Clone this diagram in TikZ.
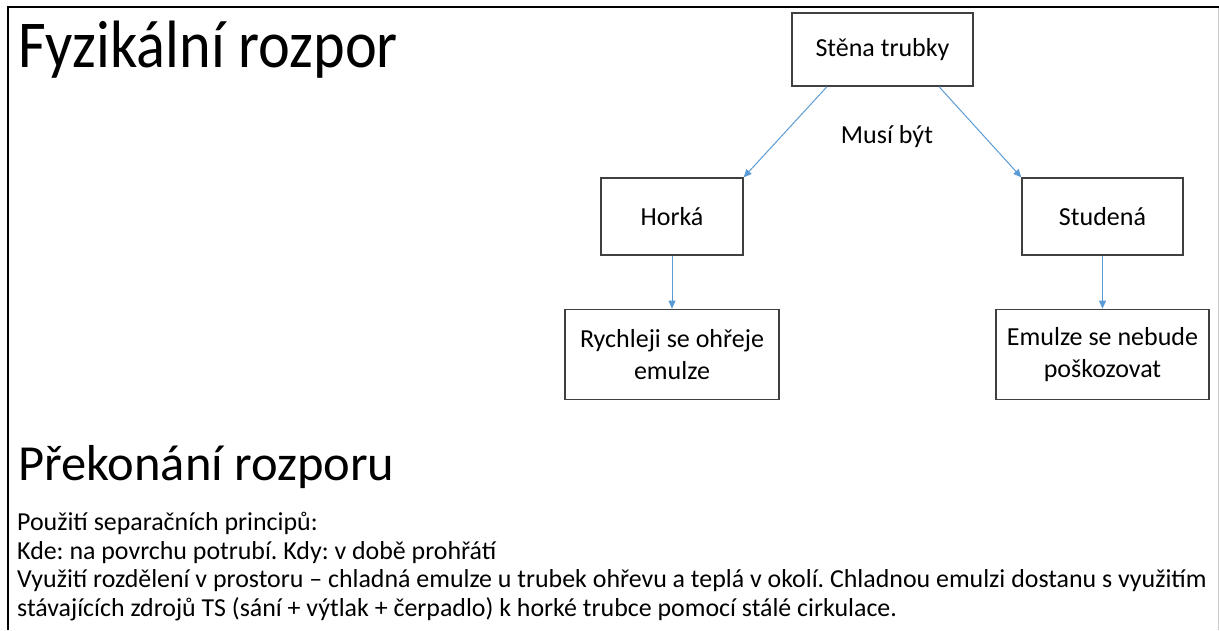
\documentclass[tikz,border=0pt]{standalone}
\usepackage{fontspec}
\setmainfont{Carlito}
\frenchspacing
\usetikzlibrary{arrows.meta,positioning}
\definecolor{arrowblue}{HTML}{5B9BD5}
\definecolor{boxgray}{HTML}{404040}

\begin{document}
\begin{tikzpicture}[x=1pt,y=1pt,>={Triangle[length=8pt,width=7pt]},node distance=53pt,align=center,
		box/.style={draw=boxgray,line width=1.3pt,inner sep=0pt,font=\fontsize{26}{32}\selectfont},
		txt/.style={inner sep=0pt,anchor=base west,font=\fontsize{25.9}{30}\selectfont},
		arrow/.style={arrowblue,line width=1pt}]
			\useasboundingbox (0,0) rectangle (1219,-630);
			% frame of the slide
			\draw[line width=2.5pt] (8,-630) |- (1219,-7);
			\draw[gray!40,line width=1pt] (1218,-8) -- (1218,-630);
			% headings
			\node[inner sep=0pt,anchor=base west,xscale=0.9,transform shape,font=\fontsize{67}{78}\selectfont] (nadpis) at (18,-67) {Fyzikální rozpor};
			\node[inner sep=0pt,anchor=base west,font=\fontsize{50.5}{61}\selectfont] (podnadpis) at (18,-480) {Překonání rozporu};
			% diagram
			\node[box,minimum width=181pt,minimum height=73pt] (stena) at (882.5,-49.5) {Stěna trubky};
			\node[box,minimum width=142pt,minimum height=77pt] (horka) at (672,-216.5) {Horká};
			\node[box,minimum width=161pt,minimum height=77pt] (studena) at (1102.5,-216.5) {Studená};
			\node[box,minimum width=214pt,minimum height=90pt] [below=of horka] (rychleji) {Rychleji se ohřeje\\emulze};
			\node[box,minimum width=213pt,minimum height=90pt] [below=of studena] (poskozeni) {Emulze se nebude\\poškozovat};
			\node[inner sep=0pt,font=\fontsize{26}{32}\selectfont] (musi) at (887,-137) {Musí být};
			\path[->,arrow]
				([xshift=-55.5pt]stena.south) edge (horka.north east)
				([xshift=56.5pt]stena.south) edge (studena.north west)
				(horka) edge (rychleji)
				(studena) edge (poskozeni);
			% text below
			\node[txt] (radek1) at (17,-530.5) {Použití separačních principů:};
			\node[txt] (radek2) at (17,-559) {Kde: na povrchu potrubí. Kdy: v době prohřátí};
			\node[txt] (radek3) at (17,-587.5) {Využití rozdělení v prostoru – chladná emulze u trubek ohřevu a teplá v okolí. Chladnou emulzi dostanu s využitím};
			\node[txt] (radek4) at (17,-616) {stávajících zdrojů TS (sání + výtlak + čerpadlo) k horké trubce pomocí stálé cirkulace.};
		\end{tikzpicture}
\end{document}
